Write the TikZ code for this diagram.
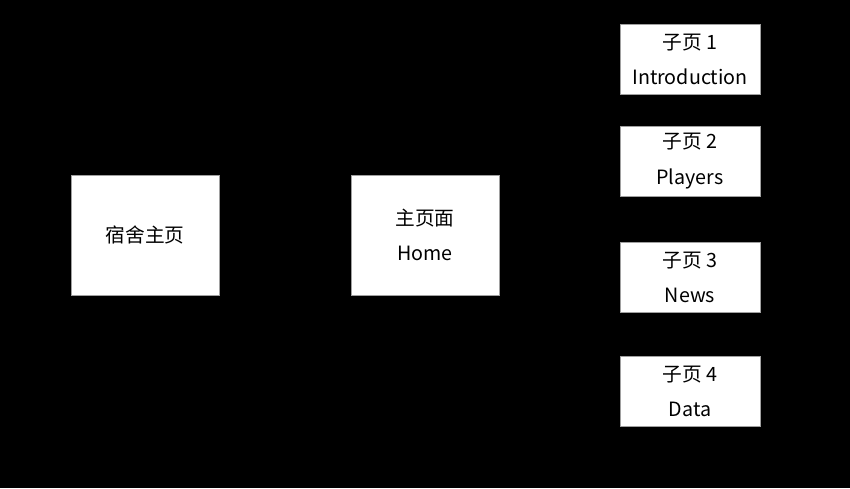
\documentclass[tikz,border=0pt]{standalone}
\usepackage{fontspec}
\usepackage{tikz}
\usepackage{xcolor}
\usetikzlibrary{positioning}
\newfontfamily\cjk{Noto Sans CJK SC}
\definecolor{ink}{HTML}{000000}
\definecolor{boxline}{HTML}{A0A0A0}
\tikzset{
  pagebox/.style={draw=boxline,fill=white,line width=0.5pt,
                  align=center,inner sep=2pt,text=ink,
                  font=\cjk\fontsize{14}{25}\selectfont},
  bigpage/.style={pagebox,minimum width=3.7cm,minimum height=3cm},
  subpage/.style={pagebox,minimum width=3.5cm,minimum height=1.75cm}
}
\begin{document}
\begin{tikzpicture}[x=0.025cm,y=-0.025cm]
    \fill[black] (0,0) rectangle (850,488);
    \path[use as bounding box] (0,0) rectangle (850,488);
    \node[bigpage] (dorm) at (145,235) {宿舍主页};
    \node[bigpage] (home) at (425,235) {主页面\\Home};

    \node[subpage] (sub1) at (690,59.5) {子页 1\\Introduction};
    \node[subpage] (sub2) at (690,161) {子页 2\\Players};
    \node[subpage] (sub3) at (690,277) {子页 3\\News};
    \node[subpage] (sub4) at (690,391) {子页 4\\Data};
  \end{tikzpicture}
\end{document}
